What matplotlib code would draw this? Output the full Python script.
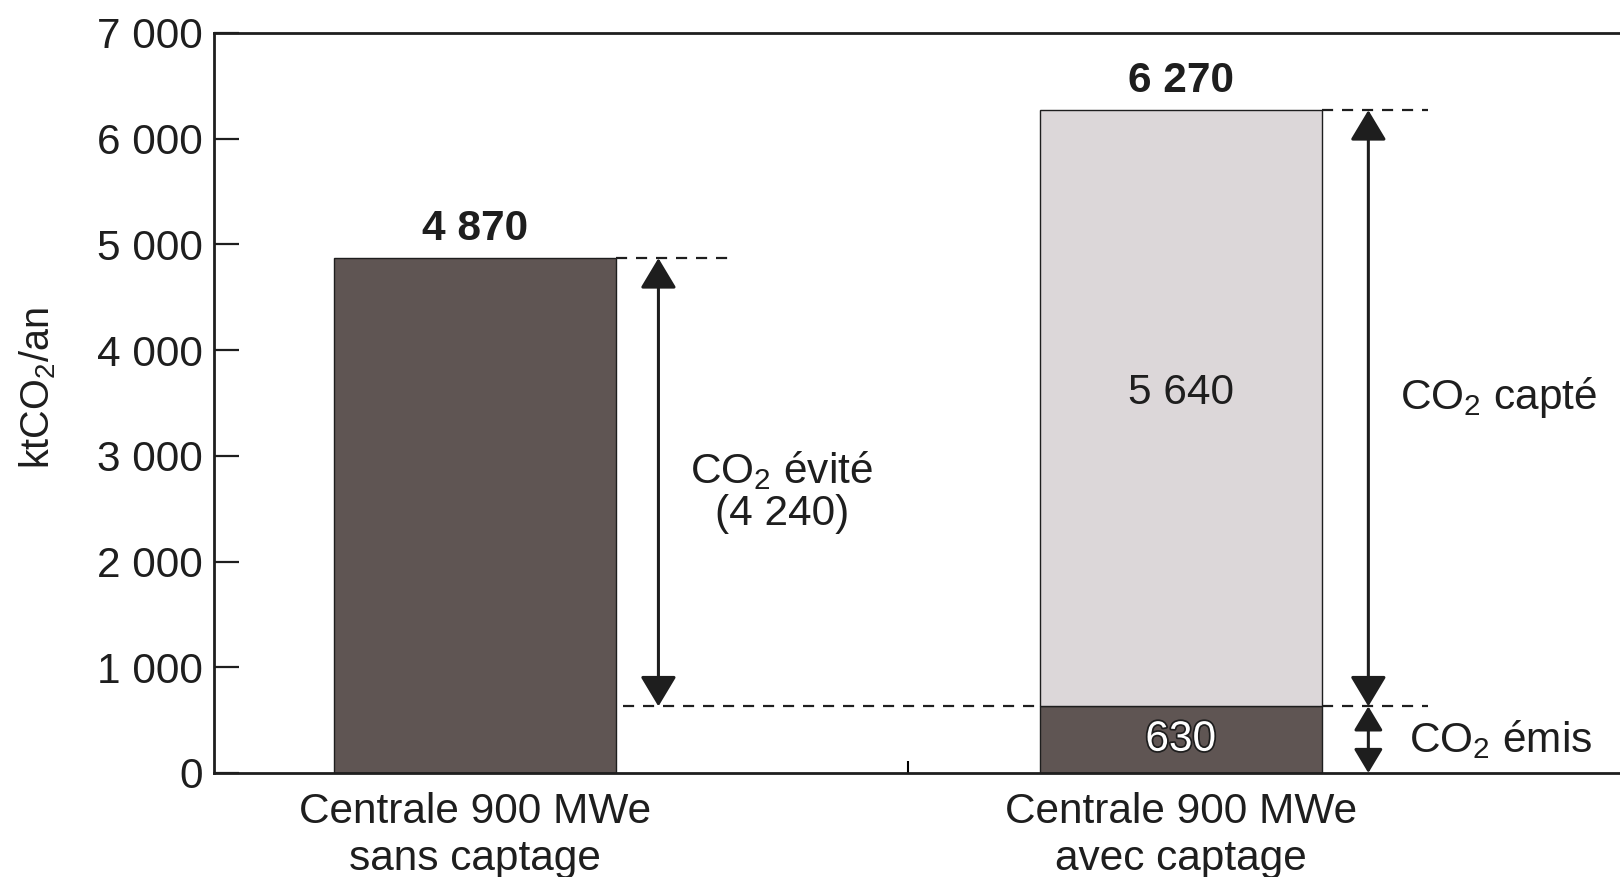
import matplotlib
matplotlib.use("Agg")
import matplotlib.pyplot as plt
import matplotlib.patheffects as pe

plt.rcParams['font.family'] = ['Liberation Sans', 'DejaVu Sans']
plt.rcParams['mathtext.fontset'] = 'custom'
plt.rcParams['mathtext.rm'] = 'Liberation Sans'

# ktCO2/an for a 900 MWe plant, without and with capture
centrales = ['Centrale 900 MWe\nsans captage', 'Centrale 900 MWe\navec captage']
co2_emis = [4870, 630]
co2_capte = [0, 5640]
co2_total = [4870, 6270]
co2_evite = 4240
y_ticks = [0, 1000, 2000, 3000, 4000, 5000, 6000, 7000]

DARK = '#5f5553'
LIGHT = '#dcd7d9'
INK = '#1e1e1e'
FS = 30.5


def fmt(v):
    return f"{v:,}".replace(",", " ")


fig = plt.figure(figsize=(16.2, 8.77), dpi=100)
ax = fig.add_axes([0.132, 0.1186, 0.9235, 0.8438])

x = [0, 1]
w = 0.4

ax.bar(x[0], co2_emis[0], width=w, color=DARK, edgecolor=INK, linewidth=1)
ax.bar(x[1], co2_emis[1], width=w, color=DARK, edgecolor=INK, linewidth=1)
ax.bar(x[1], co2_capte[1], bottom=co2_emis[1], width=w, color=LIGHT,
       edgecolor=INK, linewidth=1)

# totals above the bars
for xi, t in zip(x, co2_total):
    ax.text(xi, t + 280, fmt(t), ha='center', va='center', fontsize=FS,
            fontweight='bold', color=INK)

# values inside the second bar
ax.text(x[1], co2_emis[1] + co2_capte[1] * 0.525, fmt(co2_capte[1]),
        ha='center', va='center', fontsize=FS, color=INK)
ax.text(x[1], co2_emis[1] / 2, fmt(co2_emis[1]), ha='center', va='center',
        fontsize=FS, color='white',
        path_effects=[pe.withStroke(linewidth=2.5, foreground=INK)])

# dashed reference lines
dash = dict(color=INK, linestyle=(0, (5, 4)), linewidth=1.6)
r0 = x[0] + w / 2
r1 = x[1] + w / 2
ax.plot([r0, r0 + 0.16], [co2_total[0]] * 2, **dash)
ax.plot([r0 + 0.01, x[1] - w / 2], [co2_emis[1]] * 2, **dash)
ax.plot([r1, r1 + 0.15], [co2_emis[1]] * 2, **dash)
ax.plot([r1, r1 + 0.15], [co2_total[1]] * 2, **dash)

arrow = dict(arrowstyle='<|-|>,head_length=0.55,head_width=0.33',
             mutation_scale=34, linewidth=2.2, color=INK, facecolor='#474747',
             shrinkA=0, shrinkB=0)
xa0 = r0 + 0.06
xa1 = r1 + 0.066
ax.annotate('', xy=(xa0, co2_emis[1]), xytext=(xa0, co2_total[0]),
            arrowprops=arrow)
ax.annotate('', xy=(xa1, co2_emis[1]), xytext=(xa1, co2_total[1]),
            arrowprops=arrow)
ax.annotate('', xy=(xa1, 0), xytext=(xa1, co2_emis[1]),
            arrowprops=dict(arrow, mutation_scale=27))

ax.text(xa0 + 0.175, 2660, 'CO$_\\mathregular{2}$ évité\n(' + fmt(co2_evite) + ')',
        ha='center', va='center', fontsize=FS, color=INK, linespacing=1.05)
ax.text(xa1 + 0.045, 3550, 'CO$_\\mathregular{2}$ capté', ha='left',
        va='center', fontsize=FS, color=INK)
ax.text(xa1 + 0.058, co2_emis[1] / 2, 'CO$_\\mathregular{2}$ émis', ha='left',
        va='center', fontsize=FS, color=INK)

ax.set_xlim(-0.37, 1.75)
ax.set_ylim(0, 7000)
ax.set_yticks(y_ticks)
ax.set_yticklabels([fmt(v) for v in y_ticks])
ax.set_xticks(x)
ax.set_xticklabels(centrales, fontsize=FS, linespacing=1.2)
ax.set_xticks([0.613], minor=True)

ax.tick_params(axis='y', direction='in', length=18, width=1.6, pad=8,
               labelsize=FS, colors=INK)
ax.tick_params(axis='x', which='major', length=0, pad=14, colors=INK)
ax.tick_params(axis='x', which='minor', direction='in', length=9, width=1.5)
ax.set_ylabel('ktCO$_\\mathregular{2}$/an', fontsize=FS - 2, color=INK)
ax.yaxis.set_label_coords(-0.104, 0.52)

for s in ['left', 'top', 'bottom']:
    ax.spines[s].set_linewidth(2)
    ax.spines[s].set_color(INK)
ax.spines['right'].set_visible(False)

fig.savefig('out.png', dpi=100)
